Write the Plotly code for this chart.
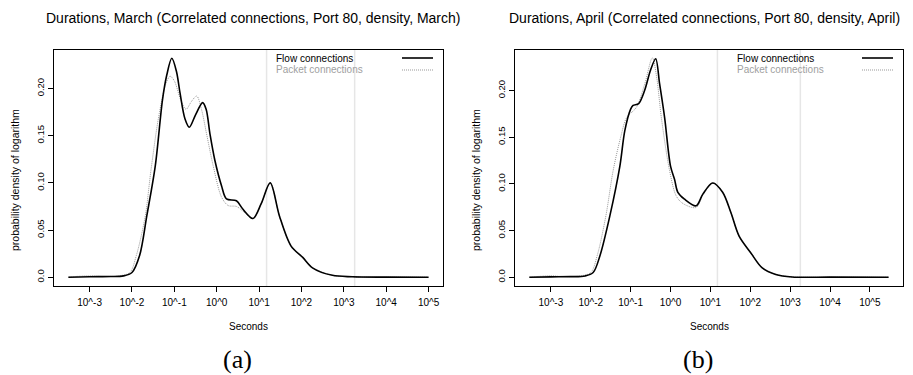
import numpy as np
import plotly.graph_objects as go

# ---------------- data (x = log10 of duration in seconds, y = density) ----------------
march_flow_log_s = [-3.5, -3.0, -2.5, -2.2, -2.0, -1.82, -1.65, -1.45, -1.28, -1.18, -1.06,
                    -0.95, -0.865, -0.75, -0.647, -0.5, -0.333, -0.25, -0.16, -0.044, 0.113,
                    0.23, 0.465, 0.62, 0.855, 1.05, 1.262, 1.48, 1.755, 2.03, 2.26, 2.73,
                    3.2, 4.0, 5.0]
march_flow_density = [0.0, 0.0005, 0.0008, 0.0014, 0.005, 0.023, 0.065, 0.118, 0.188, 0.214, 0.232,
                      0.218, 0.195, 0.168, 0.159, 0.172, 0.185, 0.178, 0.152, 0.124, 0.097,
                      0.083, 0.081, 0.072, 0.0623, 0.078, 0.100, 0.065, 0.033, 0.021, 0.010, 0.002,
                      0.0005, 0.0001, 0.0]

march_packet_log_s = [-3.5, -3.2, -3.0, -2.7, -2.3, -2.05, -1.897, -1.686, -1.553, -1.37, -1.2,
                      -1.1, -1.0, -0.85, -0.724, -0.6, -0.473, -0.36, -0.24, -0.083, 0.113,
                      0.27, 0.465, 0.62, 0.855, 1.05, 1.262, 1.48, 1.755, 2.03, 2.26, 2.73,
                      3.2, 4.0, 5.0]
march_packet_density = [0.0, 0.0012, 0.0015, 0.0008, 0.0015, 0.005, 0.023, 0.065, 0.113, 0.170, 0.205,
                        0.213, 0.208, 0.188, 0.178, 0.186, 0.192, 0.178, 0.152, 0.118, 0.085,
                        0.076, 0.075, 0.070, 0.062, 0.078, 0.100, 0.065, 0.033, 0.021, 0.010, 0.002,
                        0.0005, 0.0001, 0.0]

april_flow_log_s = [-3.54, -3.0, -2.5, -2.14, -1.94, -1.77, -1.52, -1.27, -1.146, -1.0, -0.939,
                    -0.8, -0.65, -0.5, -0.372, -0.273, -0.148, 0.0, 0.1, 0.184, 0.35, 0.643,
                    0.81, 1.058, 1.307, 1.516, 1.72, 2.015, 2.30, 2.64, 3.05, 4.0, 5.47]
april_flow_density = [0.0, 0.0004, 0.0006, 0.0014, 0.005, 0.023, 0.066, 0.119, 0.157, 0.180, 0.184,
                      0.186, 0.200, 0.222, 0.234, 0.207, 0.171, 0.119, 0.105, 0.091, 0.0837, 0.0765,
                      0.089, 0.101, 0.091, 0.069, 0.044, 0.026, 0.010, 0.003, 0.0003, 0.0001, 0.0]

april_packet_log_s = [-3.54, -3.2, -3.0, -2.7, -2.3, -2.0, -1.84, -1.62, -1.44, -1.25, -1.1,
                      -0.855, -0.647, -0.455, -0.35, -0.23, -0.023, 0.144, 0.31, 0.643,
                      0.81, 1.058, 1.307, 1.516, 1.72, 2.015, 2.30, 2.64, 3.05, 4.0, 5.47]
april_packet_density = [0.0, 0.0012, 0.0016, 0.0008, 0.0012, 0.005, 0.023, 0.066, 0.114, 0.150, 0.171,
                        0.182, 0.207, 0.235, 0.215, 0.171, 0.114, 0.087, 0.079, 0.0747,
                        0.088, 0.101, 0.091, 0.069, 0.044, 0.026, 0.010, 0.003, 0.0003, 0.0001, 0.0]

threshold_seconds = [15, 1800]

x_tick_exponents = [-3, -2, -1, 0, 1, 2, 3, 4, 5]
x_tick_labels = ["10^-3", "10^-2", "10^-1", "10^0", "10^1", "10^2", "10^3", "10^4", "10^5"]
y_tick_values = [0.0, 0.05, 0.10, 0.15, 0.20]
y_tick_labels = ["0.0", "0.05", "0.10", "0.15", "0.20"]

titles = ["Durations, March (Correlated connections, Port 80, density, March)",
          "Durations, April (Correlated connections, Port 80, density, April)"]
panel_labels = ["(a)", "(b)"]
series_names = ["Flow connections", "Packet connections"]

# ---------------- layout constants ----------------
W, H = 913, 375
FONT = "Liberation Sans"
SERIF = "Liberation Serif"
panels = [
    dict(x0=54, x1=443, xr=[-3.84, 5.34], yr=[-0.0093, 0.2408], title_dx=4,
         flow=(march_flow_log_s, march_flow_density), pkt=(march_packet_log_s, march_packet_density)),
    dict(x0=515, x1=903, xr=[-3.90, 5.83], yr=[-0.0094, 0.2434], title_dx=-5,
         flow=(april_flow_log_s, april_flow_density), pkt=(april_packet_log_s, april_packet_density)),
]
box_top, box_bot = 50, 286

def px(v):
    return v / W

def py(v):
    return 1 - v / H

fig = go.Figure()
annotations = []
shapes = []

for i, p in enumerate(panels):
    xa = "x" if i == 0 else "x2"
    ya = "y" if i == 0 else "y2"
    xkey = "xaxis" if i == 0 else "xaxis2"
    ykey = "yaxis" if i == 0 else "yaxis2"

    # threshold lines
    for t in threshold_seconds:
        shapes.append(dict(type="line", xref=xa, yref=ya + " domain",
                           x0=np.log10(t), x1=np.log10(t), y0=0, y1=1,
                           line=dict(color="#e6e6e6", width=1.5), layer="below"))

    fig.add_trace(go.Scatter(x=p["pkt"][0], y=p["pkt"][1], mode="lines", xaxis=xa, yaxis=ya,
                             line=dict(color="#999999", width=1, dash="1px,1px", shape="spline", smoothing=0.9),
                             name=series_names[1], showlegend=False, hoverinfo="skip"))
    fig.add_trace(go.Scatter(x=p["flow"][0], y=p["flow"][1], mode="lines", xaxis=xa, yaxis=ya,
                             line=dict(color="black", width=1.6, shape="spline", smoothing=0.9),
                             name=series_names[0], showlegend=False, hoverinfo="skip"))

    fig.update_layout(**{
        xkey: dict(domain=[px(p["x0"]), px(p["x1"])], range=p["xr"], anchor=ya,
                   showgrid=False, zeroline=False, showline=True, mirror=True,
                   linecolor="black", linewidth=1,
                   tickmode="array", tickvals=x_tick_exponents, ticktext=x_tick_labels,
                   ticks="outside", ticklen=5, tickwidth=1, tickcolor="black", ticklabelstandoff=2,
                   tickfont=dict(family=FONT, size=10, color="black")),
        ykey: dict(domain=[py(box_bot), py(box_top)], range=p["yr"], anchor=xa,
                   showgrid=False, zeroline=False, showline=True, mirror=True,
                   linecolor="black", linewidth=1,
                   tickmode="array", tickvals=y_tick_values, ticktext=y_tick_labels,
                   ticks="outside", ticklen=5, tickwidth=1, tickcolor="black", tickangle=-90,
                   tickfont=dict(family=FONT, size=9.5, color="black")),
    })

    cx = (p["x0"] + p["x1"]) / 2
    annotations.append(dict(text=titles[i], x=px(cx + p["title_dx"]), y=py(18), xref="paper", yref="paper",
                            xanchor="center", yanchor="middle", showarrow=False,
                            font=dict(family=FONT, size=14, color="black")))
    annotations.append(dict(text="Seconds", x=px(cx), y=py(326), xref="paper", yref="paper",
                            xanchor="center", yanchor="middle", showarrow=False,
                            font=dict(family=FONT, size=10, color="black")))
    annotations.append(dict(text="probability density of logarithm", x=px(p["x0"] - 39), y=py(180),
                            xref="paper", yref="paper", textangle=-90,
                            xanchor="center", yanchor="middle", showarrow=False,
                            font=dict(family=FONT, size=10.5, color="black")))
    annotations.append(dict(text=panel_labels[i], x=px(cx - 11.5), y=py(359), xref="paper", yref="paper",
                            xanchor="center", yanchor="middle", showarrow=False,
                            font=dict(family=SERIF, size=26, color="black")))

    # legend (text then line sample)
    leg_text_x = p["x0"] + 220
    leg_line_x0 = p["x1"] - 41
    leg_line_x1 = p["x1"] - 10
    for j, (nm, col, dash, w) in enumerate([(series_names[0], "black", "solid", 1.6),
                                             (series_names[1], "#a0a0a0", "1px,1px", 1)]):
        yy = 58 + 12 * j
        annotations.append(dict(text=nm, x=px(leg_text_x), y=py(yy), xref="paper", yref="paper",
                                xanchor="left", yanchor="middle", showarrow=False,
                                font=dict(family=FONT, size=10, color=col)))
        shapes.append(dict(type="line", xref="paper", yref="paper",
                           x0=px(leg_line_x0), x1=px(leg_line_x1), y0=py(yy), y1=py(yy),
                           line=dict(color=col if j == 0 else "#999999", width=w, dash=dash)))

fig.update_layout(width=W, height=H, margin=dict(l=0, r=0, t=0, b=0),
                  paper_bgcolor="white", plot_bgcolor="white",
                  annotations=annotations, shapes=shapes, showlegend=False)

fig.write_html("out.html")
